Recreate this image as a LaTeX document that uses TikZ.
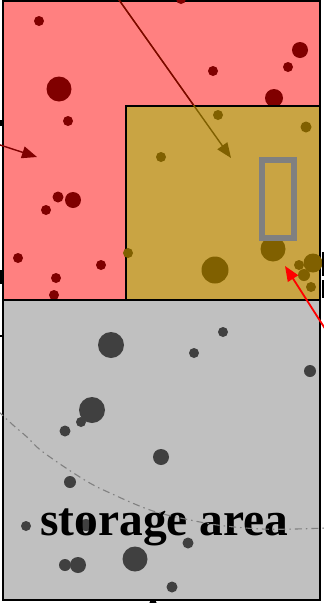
\documentclass[tikz,border=0pt]{standalone}
\usepackage{fontspec}
\setmainfont{Liberation Serif}
\usepackage{xcolor}
\definecolor{zonepink}{HTML}{FF8080}
\definecolor{dotred}{HTML}{800000}
\definecolor{zonegold}{HTML}{C9A443}
\definecolor{dotolive}{HTML}{806000}
\definecolor{zonegray}{HTML}{C0C0C0}
\definecolor{dotgray}{HTML}{404040}
\definecolor{framegray}{HTML}{808080}
\usetikzlibrary{arrows.meta, positioning}

\begin{document}
\begin{tikzpicture}[x=1pt, y=-1pt,
        zone/.style={draw=black, line width=1.8pt},
        pointer/.style={line width=1.4pt, -{Triangle[length=15pt, width=12pt]}},
        boundary/.style={draw=framegray, line width=1.1pt, dash pattern=on 7pt off 4pt on 1.5pt off 4pt},
        label/.style={font=\fontsize{47.5}{47.5}\selectfont\bfseries, inner sep=0pt}]

        \useasboundingbox (0,0) rectangle (324,603);
        \fill[white] (0,0) rectangle (324,603);

        \path[zone, fill=zonepink] (3,1) rectangle (320,300);
        \foreach \x/\y/\r in {39/21/5, 59/89/12.5, 68/121/5, 181/-1/5, 300/50/8, 213/71/5,
                288/67/5, 274/98/9, 58/197/5.5, 73/200/8, 46/210/5, 18/258/5, 101/265/5,
                56/278/5, 54/295/5}
            \fill[dotred] (\x,\y) circle[radius=\r pt];

        \coordinate (a2s) at (-6,143);
        \coordinate (a2e) at (37,157);
        \draw[pointer, draw=dotred, fill=dotred] (a2s) -- (a2e);

        \path[zone, fill=zonegold, line width=1.5pt] (126,106) rectangle (320,300);
        \foreach \x/\y/\r in {128/253/5, 161/157/5, 218/115/5, 306/127/5.5, 273/249/12.5,
                215/270/13.5, 313/263/9.5, 299/265/5, 304/275/6, 311/287/5}
            \fill[dotolive] (\x,\y) circle[radius=\r pt];

        \draw[framegray, line width=6pt] (262,160) rectangle (294,238);

        \path[zone, fill=zonegray] (3,300) rectangle (320,600);
        \foreach \x/\y/\r in {111/345/13, 92/410/13, 81/422/5, 65/431/5.5, 223/332/5,
                194/353/5, 310/371/6, 161/457/8, 70/482/6, 26/526/5, 86/525/6, 65/565/6,
                78/565/8, 135/559/12.5, 188/543/5.5, 172/587/5.5}
            \fill[dotgray] (\x,\y) circle[radius=\r pt];

        \node[label, anchor=base] (store) at (164.5,535) {storage area};

        \draw[boundary] plot[smooth, tension=0.6] coordinates {(-2,411) (13,425) (27,437)
                (43,452) (83,479) (110,493) (153,511) (195,521) (225,526) (262,529)
                (295,529) (326,528)};

        % pointer into the gold zone, darker red where it crosses pink
        \coordinate (a1s) at (112,-10);
        \coordinate (a1e) at (231,158);
        \draw[pointer, draw=dotolive, fill=dotolive] (a1s) -- (a1e);
        \begin{scope}
            \clip (0,-20) rectangle (324,105) (0,105) rectangle (125,300);
            \draw[line width=1.4pt, dotred] (a1s) -- (a1e);
        \end{scope}

        \coordinate (a3s) at (331,338);
        \coordinate (a3e) at (285,266);
        \draw[pointer, draw=red, fill=red, line width=1.8pt] (a3s) -- (a3e);

        % cut-off marks at the picture edges
        \fill[black] (0,120) rectangle (4,126);
        \fill[black] (0,270) rectangle (3,284);
        \fill[black] (0,335) rectangle (4,337);
        \fill[black] (322,252) rectangle (324,276);
        \fill[black] (322,280) rectangle (324,298);
        \fill[black] (153,604) circle[radius=4pt];
\end{tikzpicture}
\end{document}
